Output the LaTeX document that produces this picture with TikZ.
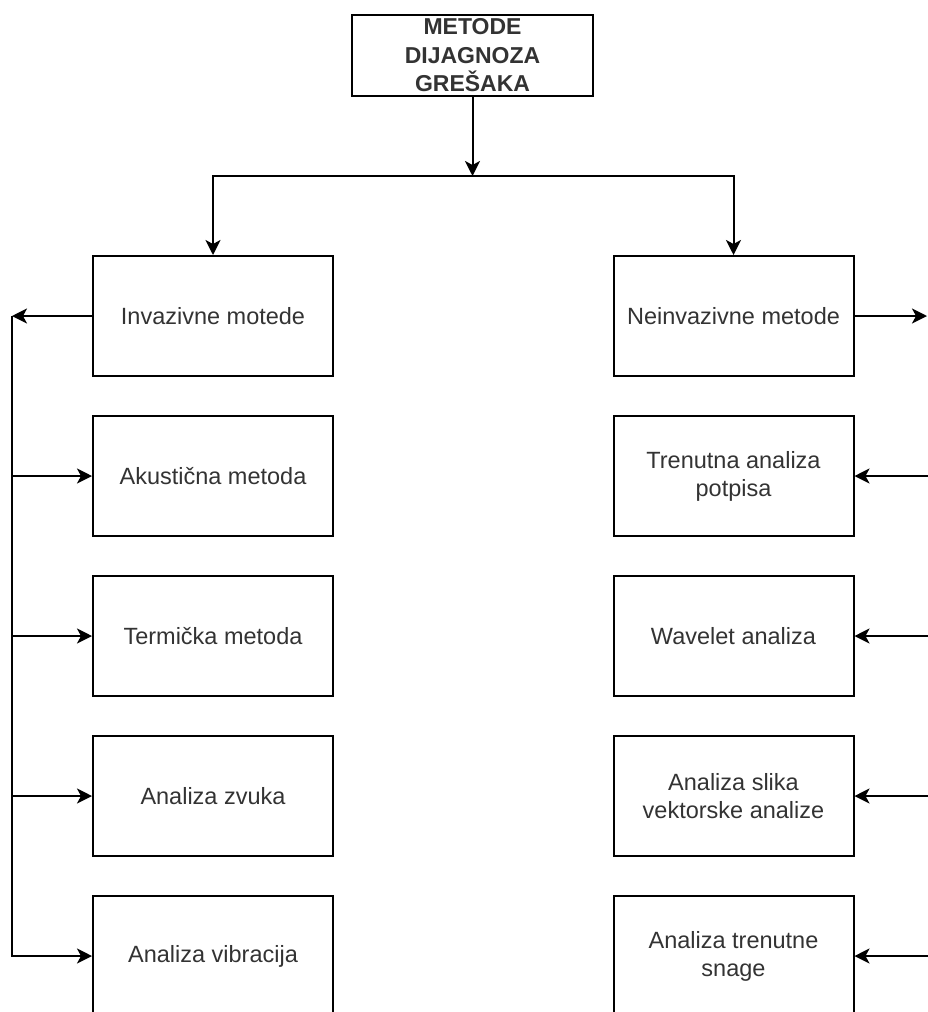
\documentclass[tikz,border=0pt]{standalone}
\usepackage{fontspec}
\setmainfont{Liberation Sans}
\usetikzlibrary{arrows.meta}
\begin{document}
\begin{tikzpicture}[x=1pt,y=-1pt,
  box/.style={draw=black,line width=2pt,minimum width=240pt,minimum height=120pt,
    align=center,inner sep=0pt,text=black!80,font=\fontsize{23.5}{28}\selectfont},
  titlebox/.style={draw=black,line width=2pt,minimum width=241pt,minimum height=81pt,
    align=center,inner sep=0pt,text=black!80,font=\fontsize{23}{28.5}\selectfont\bfseries},
  arr/.style={line width=2pt,-{Stealth[length=15pt,width=15pt,inset=4pt]}}]
\useasboundingbox (0,0) rectangle (928,1012);
\node[titlebox] (t) at (472.5,55.5) {METODE\\DIJAGNOZA\\GREŠAKA};
\node[box] (l1) at (213,316) {Invazivne motede};
\node[box] (l2) at (213,476) {Akustična metoda};
\node[box] (l3) at (213,636) {Termička metoda};
\node[box] (l4) at (213,796) {Analiza zvuka};
\node[box] (l5) at (213,956) {Analiza vibracija};
\node[box] (r1) at (733.5,316) {Neinvazivne metode};
\node[box] (r2) at (733.5,476) {Trenutna analiza\\potpisa};
\node[box] (r3) at (733.5,636) {Wavelet analiza};
\node[box] (r4) at (733.5,796) {Analiza slika\\vektorske analize};
\node[box] (r5) at (733.5,956) {Analiza trenutne\\snage};
\coordinate (J) at (472.5,176);
\draw[arr] (t) -- (J);
\draw[arr] (J) -| (l1.north);
\draw[arr] (J) -| (r1.north);
% left bus
\coordinate (LB1) at (12,316);
\coordinate (LB2) at (12,476);
\coordinate (LB3) at (12,636);
\coordinate (LB4) at (12,796);
\draw[arr] (l1.west) -- (LB1);
\draw[arr] (LB1) |- (l5.west);
\draw[arr] (LB2) -- (l2.west);
\draw[arr] (LB3) -- (l3.west);
\draw[arr] (LB4) -- (l4.west);
% right side
\coordinate (RB1) at (927,316);
\coordinate (RB2) at (932,476);
\coordinate (RB3) at (932,636);
\coordinate (RB4) at (932,796);
\coordinate (RB5) at (932,956);
\draw[arr] (r1.east) -- (RB1);
\draw[arr] (RB2) -- (r2.east);
\draw[arr] (RB3) -- (r3.east);
\draw[arr] (RB4) -- (r4.east);
\draw[arr] (RB5) -- (r5.east);
\end{tikzpicture}
\end{document}
